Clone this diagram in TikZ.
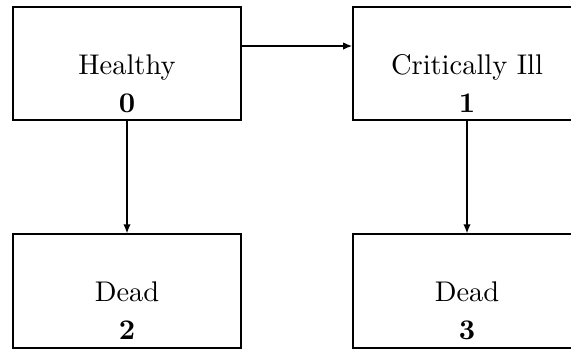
\documentclass[tikz,border=0pt]{standalone}
\usetikzlibrary{arrows.meta}
\begin{document}
\begin{tikzpicture}[x=0.3515pt,y=-0.3515pt,
  statebox/.style={draw, line width=0.55pt, minimum width=80.1pt, minimum height=39.9pt, inner sep=0pt},
  lbl/.style={anchor=base, inner sep=0pt},
  conn/.style={-{Latex[length=3.2pt,width=2.6pt]}, line width=0.55pt}]
\useasboundingbox (0,0) rectangle (571,350);
\node[statebox] (s0) at (127,63.5) {};
\node[statebox] (s1) at (467,63.5) {};
\node[statebox] (s2) at (127,291) {};
\node[statebox] (s3) at (467,291) {};
\node[lbl] (t0) at (127,74) {Healthy};
\node[lbl] (n0) at (127,112) {\textbf{0}};
\node[lbl] (t1) at (467,74) {Critically Ill};
\node[lbl] (n1) at (467,112) {\textbf{1}};
\node[lbl] (t2) at (127,301) {Dead};
\node[lbl] (n2) at (127,339) {\textbf{2}};
\node[lbl] (t3) at (467,301) {Dead};
\node[lbl] (n3) at (467,339) {\textbf{3}};
\draw[conn] (s0.east |- 0,46) -- (s1.west |- 0,46);
\draw[conn] (s0) -- (s2);
\draw[conn] (s1) -- (s3);
\end{tikzpicture}
\end{document}
